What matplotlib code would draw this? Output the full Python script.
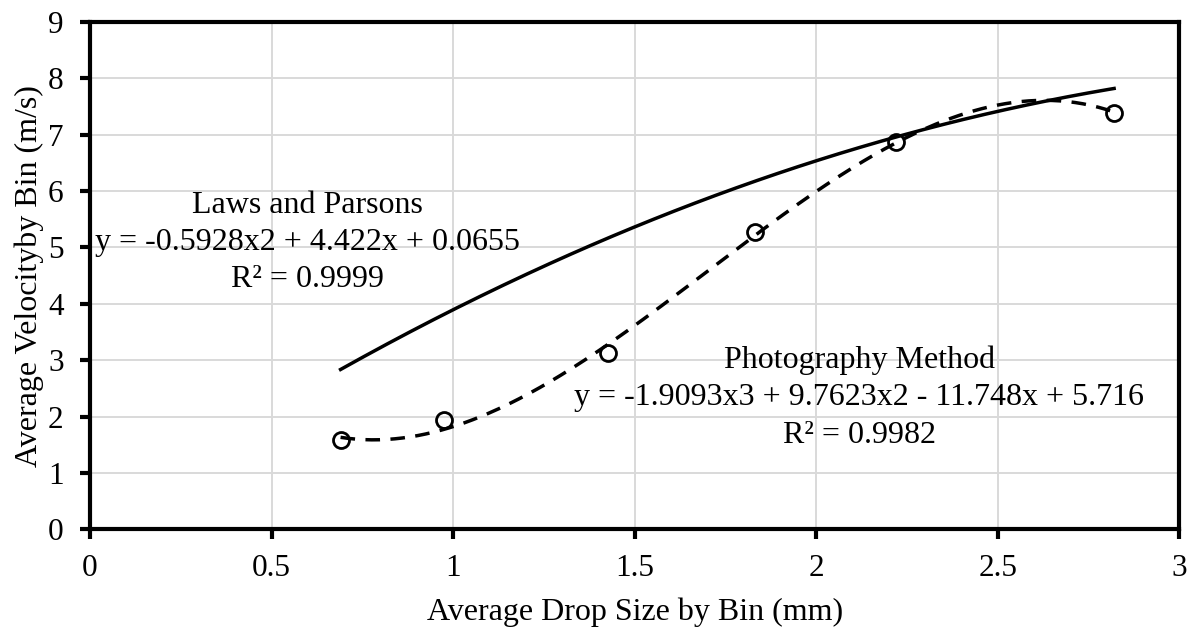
import numpy as np
import matplotlib
matplotlib.use("Agg")
import matplotlib.pyplot as plt

plt.rcParams["font.family"] = ["Liberation Serif", "DejaVu Serif"]

# measured drop size / velocity per bin (photography method)
drop_size = [0.69, 0.975, 1.425, 1.83, 2.22, 2.82]
velocity = [1.58, 1.93, 3.13, 5.27, 6.87, 7.38]

# trendline coefficients, highest power first
photo_coef = [-1.9093, 9.7623, -11.748, 5.716]
laws_coef = [-0.5928, 4.422, 0.0655]

laws_lines = ["Laws and Parsons", "y = -0.5928x2 + 4.422x + 0.0655", "R² = 0.9999"]
photo_lines = ["Photography Method", "y = -1.9093x3 + 9.7623x2 - 11.748x + 5.716",
               "R² = 0.9982"]

fig = plt.figure(figsize=(11.92, 6.30), dpi=100)
ax = fig.add_axes([0.0755, 0.160, 0.914, 0.805])

x = np.linspace(min(drop_size), max(drop_size), 300)
ax.plot(x, np.polyval(laws_coef, x), color="black", lw=2.5, zorder=3)
ax.plot(x, np.polyval(photo_coef, x), color="black", lw=2.5,
        dashes=(4.2, 3.0), zorder=3)
ax.plot(drop_size, velocity, "o", ms=11.5, mfc="none", mec="black",
        mew=2.0, zorder=4)

# trendline labels, one text per line (y in data units)
for i, s in enumerate(laws_lines):
    ax.text(0.599, 5.75 - 0.66 * i, s, ha="center", va="center", fontsize=23)
for i, s in enumerate(photo_lines):
    ax.text(2.118, 3.0 - 0.67 * i, s, ha="center", va="center", fontsize=23)

ax.set_xlim(0, 3)
ax.set_ylim(0, 9)
ax.set_xticks(np.arange(0, 3.01, 0.5))
ax.set_xticklabels(["0", "0.5", "1", "1.5", "2", "2.5", "3"])
ax.set_yticks(range(0, 10))
ax.grid(True, color="#d9d9d9", lw=1.4)
ax.set_axisbelow(True)

for side in ax.spines.values():
    side.set_linewidth(3)
    side.set_color("black")

ax.tick_params(axis="both", direction="out", length=7, width=3,
               labelsize=22.5, colors="black")
ax.tick_params(axis="x", pad=11)
ax.tick_params(axis="y", pad=12)

ax.set_xlabel("Average Drop Size by Bin (mm)", fontsize=23, labelpad=10)
ax.set_ylabel("Average Velocityby Bin (m/s)", fontsize=23, labelpad=3)

fig.savefig("out.png", dpi=100)
